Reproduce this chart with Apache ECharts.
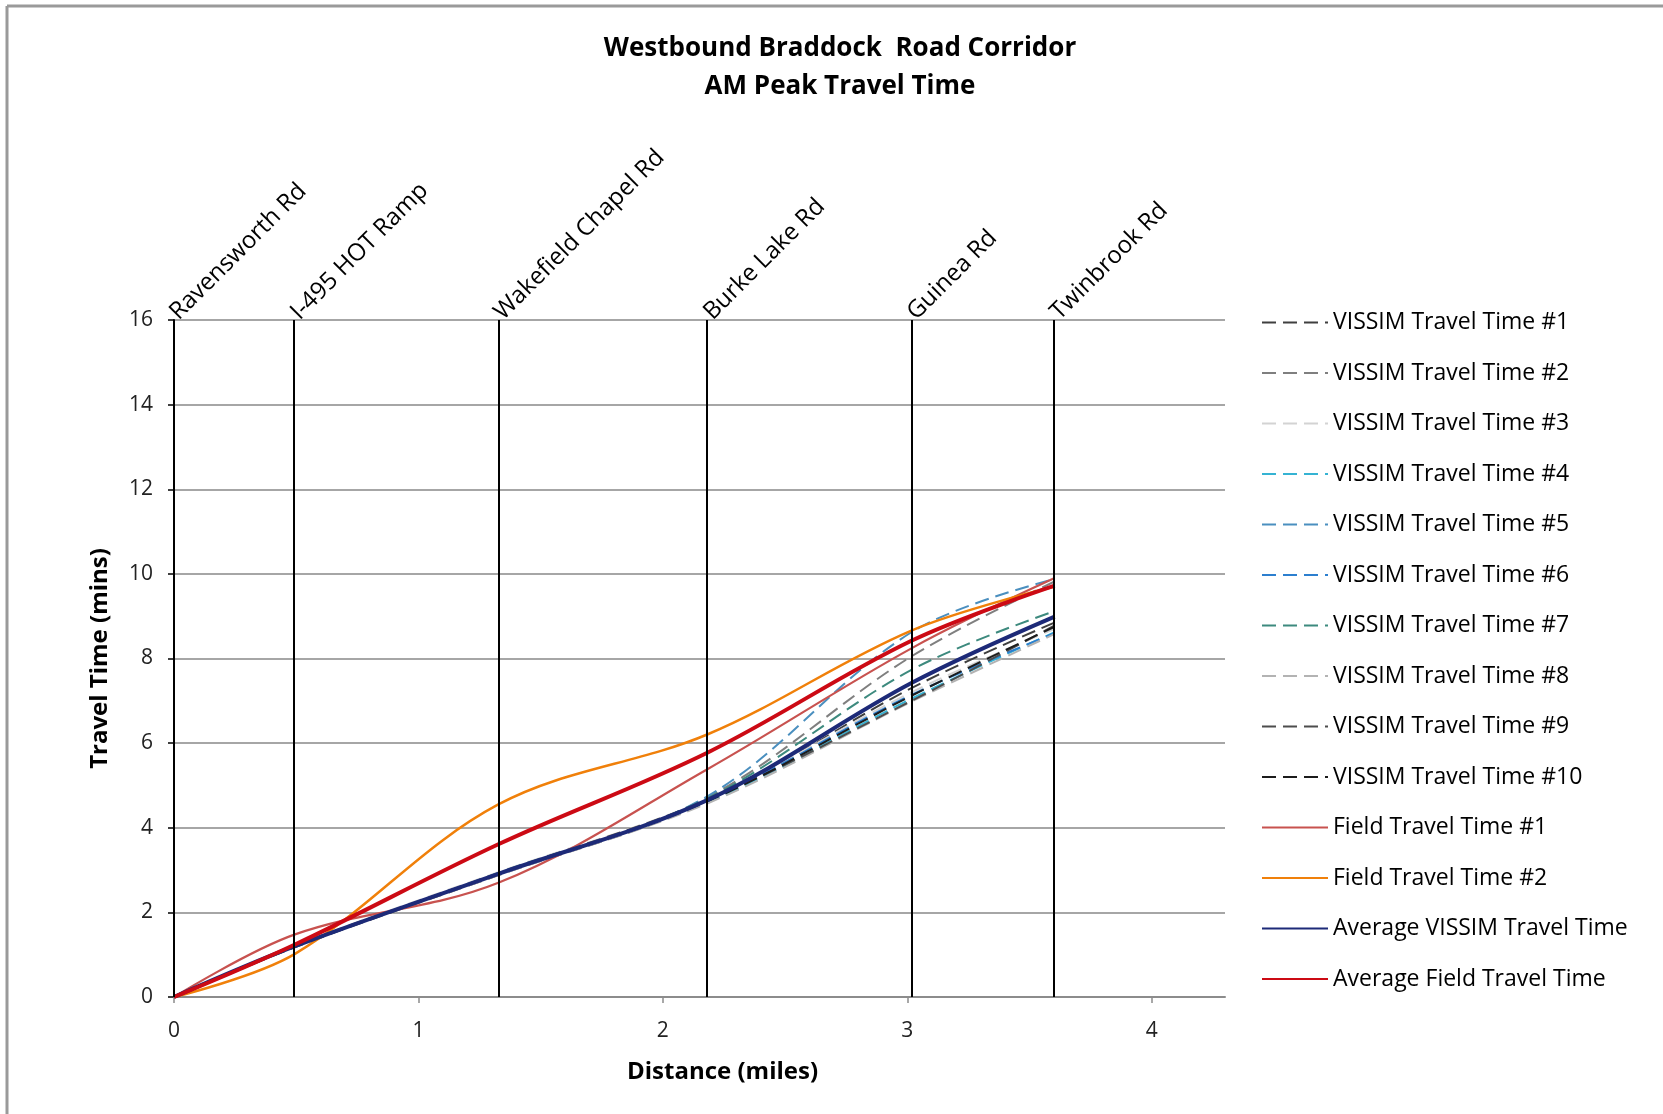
<!DOCTYPE html>
<html>
<head>
<meta charset="utf-8">
<title>Westbound Braddock Road Corridor - AM Peak Travel Time</title>
<script src="https://cdn.jsdelivr.net/npm/echarts@6/dist/echarts.min.js"></script>
<style>
  html, body { margin: 0; padding: 0; background: #fff; }
  #main { width: 1663px; height: 1114px; }
</style>
</head>
<body>
<div id="main"></div>
<script>
// distance (miles) of each intersection along the corridor
var distances = [0, 0.495, 1.327, 2.184, 3.017, 3.603];
var roadNames = ['Ravensworth Rd', 'I-495 HOT Ramp', 'Wakefield Chapel Rd', 'Burke Lake Rd', 'Guinea Rd', 'Twinbrook Rd'];
var xTicks = [0, 1, 2, 3, 4];

// cumulative travel time (mins) at each intersection
var vissim1  = [0, 1.18, 2.88, 4.62, 7.30, 8.85];
var vissim2  = [0, 1.20, 2.92, 4.72, 8.05, 9.82];
var vissim3  = [0, 1.22, 2.95, 4.68, 7.20, 8.70];
var vissim4  = [0, 1.19, 2.90, 4.60, 7.05, 8.62];
var vissim5  = [0, 1.21, 2.93, 4.75, 8.62, 9.88];
var vissim6  = [0, 1.20, 2.90, 4.65, 7.14, 8.60];
var vissim7  = [0, 1.18, 2.93, 4.70, 7.73, 9.12];
var vissim8  = [0, 1.20, 2.88, 4.58, 6.98, 8.58];
var vissim9  = [0, 1.21, 2.92, 4.66, 7.00, 8.78];
var vissim10 = [0, 1.19, 2.90, 4.63, 7.12, 8.75];
var field1   = [0, 1.48, 2.70, 5.39, 8.24, 9.90];
var field2   = [0, 1.02, 4.55, 6.21, 8.66, 9.70];
var avgVissim = [0, 1.20, 2.91, 4.66, 7.42, 8.99];
var avgField  = [0, 1.24, 3.61, 5.78, 8.42, 9.72];

var FONT = '"Open Sans"';

function pairs(vals) {
  return vals.map(function (v, i) { return [distances[i], v]; });
}

function dashed(name, vals, color) {
  return {
    name: name,
    type: 'line',
    data: pairs(vals),
    smooth: 0.35,
    symbol: 'none',
    lineStyle: { color: color, width: 2, type: [14, 7] },
    itemStyle: { color: color }
  };
}

function solid(name, vals, color, width) {
  return {
    name: name,
    type: 'line',
    data: pairs(vals),
    smooth: 0.35,
    symbol: 'none',
    lineStyle: { color: color, width: width, type: 'solid' },
    itemStyle: { color: color }
  };
}

var series = [
  dashed('VISSIM Travel Time #1', vissim1, '#3f3f3f'),
  dashed('VISSIM Travel Time #2', vissim2, '#7f7f7f'),
  dashed('VISSIM Travel Time #3', vissim3, '#d3d3d3'),
  dashed('VISSIM Travel Time #4', vissim4, '#35b3d3'),
  dashed('VISSIM Travel Time #5', vissim5, '#4a8fbf'),
  dashed('VISSIM Travel Time #6', vissim6, '#2c7fcf'),
  dashed('VISSIM Travel Time #7', vissim7, '#3d8a7e'),
  dashed('VISSIM Travel Time #8', vissim8, '#b3b3b3'),
  dashed('VISSIM Travel Time #9', vissim9, '#4d4d4d'),
  dashed('VISSIM Travel Time #10', vissim10, '#1c1c1c'),
  solid('Field Travel Time #1', field1, '#c8524f', 2.2),
  solid('Field Travel Time #2', field2, '#f0800a', 2.5),
  solid('Average VISSIM Travel Time', avgVissim, '#1d2a78', 4),
  solid('Average Field Travel Time', avgField, '#cc0a14', 4)
];

// intersection lines
series[0].markLine = {
  silent: true,
  symbol: 'none',
  label: { show: false },
  lineStyle: { color: '#000', width: 2, type: 'solid' },
  data: distances.map(function (d) { return { xAxis: d }; })
};

var option = {
  backgroundColor: '#fff',
  animation: false,
  title: {
    text: 'Westbound Braddock  Road Corridor\nAM Peak Travel Time',
    left: 835,
    top: 25,
    textAlign: 'center',
    textStyle: { fontFamily: FONT, fontSize: 26, fontWeight: 'bold', color: '#000', lineHeight: 38 }
  },
  legend: {
    orient: 'vertical',
    left: 1261,
    top: 311,
    padding: 0,
    itemWidth: 66,
    itemHeight: 22,
    itemGap: 27.5,
    itemStyle: { opacity: 0 },
    textStyle: { fontFamily: FONT, fontSize: 23, color: '#000', lineHeight: 22 },
    data: series.map(function (s) { return s.name; })
  },
  grid: { left: 174, top: 320, width: 1051, height: 677, containLabel: false },
  xAxis: [
    {
      type: 'value',
      min: 0,
      max: 4.3,
      interval: 1,
      name: 'Distance (miles)',
      nameLocation: 'middle',
      nameGap: 63,
      nameTextStyle: { fontFamily: FONT, fontSize: 24, fontWeight: 'bold', color: '#000', padding: [0, 0, 0, 46] },
      axisLine: { show: true, lineStyle: { color: '#8c8c8c', width: 2 } },
      axisTick: { show: true, length: 6, customValues: xTicks, lineStyle: { color: '#8c8c8c', width: 1.5 } },
      axisLabel: { customValues: xTicks, margin: 24, fontFamily: FONT, fontSize: 21, color: '#222' },
      splitLine: { show: false }
    },
    {
      type: 'value',
      position: 'top',
      min: 0,
      max: 4.3,
      axisLine: { show: false },
      axisTick: { show: false },
      splitLine: { show: false },
      axisLabel: {
        customValues: distances,
        rotate: -45,
        margin: 4,
        fontFamily: FONT,
        fontSize: 24,
        color: '#000',
        formatter: function (v) {
          var i = distances.indexOf(v);
          return i >= 0 ? roadNames[i] : '';
        }
      }
    }
  ],
  yAxis: {
    type: 'value',
    min: 0,
    max: 16,
    interval: 2,
    name: 'Travel Time (mins)',
    nameLocation: 'middle',
    nameGap: 62,
    nameTextStyle: { fontFamily: FONT, fontSize: 24, fontWeight: 'bold', color: '#000' },
    axisLine: { show: true, lineStyle: { color: '#000', width: 2 } },
    axisTick: { show: true, length: 6, lineStyle: { color: '#000', width: 1.5 } },
    axisLabel: { margin: 21, fontFamily: FONT, fontSize: 21, color: '#222' },
    splitLine: { show: true, lineStyle: { color: '#a6a6a6', width: 2 } }
  },
  graphic: [
    { type: 'line', shape: { x1: 7, y1: 6, x2: 1663, y2: 6 }, style: { stroke: '#9a9a9a', lineWidth: 3 } },
    { type: 'line', shape: { x1: 7, y1: 6, x2: 7, y2: 1114 }, style: { stroke: '#9a9a9a', lineWidth: 3 } }
  ],
  series: series
};

var myChart = echarts.init(document.getElementById('main'));
myChart.setOption(option);
</script>
</body>
</html>
